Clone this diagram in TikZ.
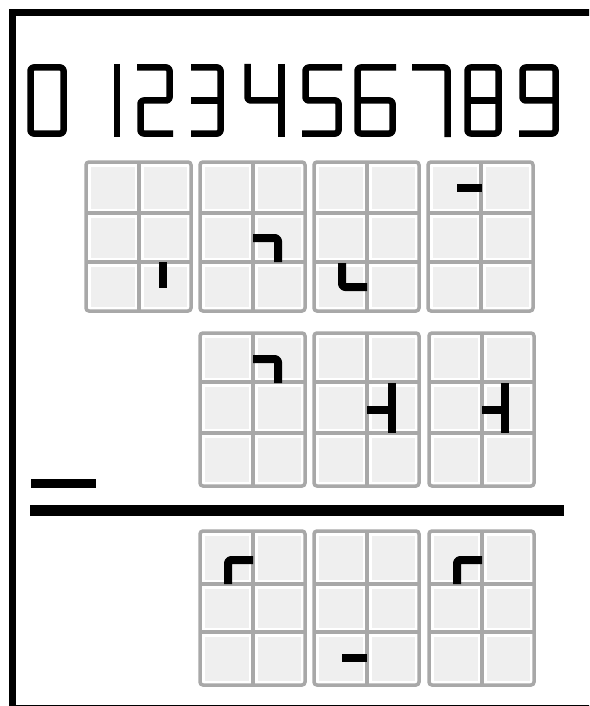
\documentclass[tikz,border=0pt]{standalone}
\definecolor{cellgray}{RGB}{239,239,239}
\definecolor{linegray}{RGB}{168,168,168}
\tikzset{
  framestroke/.style={line width=7pt,black},
  digitstroke/.style={line width=6.5pt,black,line join=round,line cap=butt,rounded corners=3pt},
  segstroke/.style={line width=8pt,black,line join=round,line cap=butt,rounded corners=3pt},
  gridline/.style={line width=3.5pt,draw=linegray},
  cellfill/.style={fill=cellgray},
}
\newcommand\mygrid[5]{%
  \pgfmathsetmacro\gM{#1+53}%
  \pgfmathsetmacro\gR{#1+105}%
  \foreach \ya/\yb in {#2/#3,#3/#4,#4/#5}{%
    \fill[cellfill] (#1+4.5,\ya+4.5) rectangle (\gM-4.5,\yb-4.5);
    \fill[cellfill] (\gM+4.5,\ya+4.5) rectangle (\gR-4.5,\yb-4.5);
  }%
  \draw[gridline,rounded corners=3pt] (#1,#2) rectangle (\gR,#5);
  \draw[gridline] (\gM,#2) -- (\gM,#5) (#1,#3) -- (\gR,#3) (#1,#4) -- (\gR,#4);
}
\begin{document}
\begin{tikzpicture}[x=1pt,y=-1pt]
\useasboundingbox (0,0) rectangle (589,706);
\clip (0,0) rectangle (589,706);
\fill[white] (0,0) rectangle (589,706);
% frame
\draw[framestroke] (12.5,12.5) rectangle (640,708.5);
% invisible real text of the digit row
\node[text opacity=0,font=\fontsize{60}{60}\selectfont,inner sep=0pt] (digits) at (293,100) {0 123456789};
% seven-segment digits: top y 67.5, middle 100.5, bottom 133.5
\def\tT{67.5}\def\tM{100.5}\def\tB{133.5}
% 0
\draw[digitstroke] (30.5,\tT) rectangle (63.5,\tB);
% 1
\draw[digitstroke] (117,64) -- (117,137);
% 2
\draw[digitstroke] (137,\tT) -- (169.5,\tT) -- (169.5,\tM) -- (140.5,\tM) -- (140.5,\tB) -- (173,\tB);
% 3
\draw[digitstroke] (191,\tT) -- (220.5,\tT) -- (220.5,\tB) -- (191,\tB);
\draw[digitstroke] (191,\tM) -- (220.5,\tM);
% 4
\draw[digitstroke] (247.5,64) -- (247.5,\tM) -- (281.5,\tM);
\draw[digitstroke] (281.5,64) -- (281.5,137);
% 5
\draw[digitstroke] (342,\tT) -- (305.5,\tT) -- (305.5,\tM) -- (338.5,\tM) -- (338.5,\tB) -- (302,\tB);
% 6
\draw[digitstroke] (396,\tT) -- (357.5,\tT) -- (357.5,\tB) -- (392.5,\tB) -- (392.5,\tM) -- (357.5,\tM);
% 7
\draw[digitstroke] (412,\tT) -- (447.5,\tT) -- (447.5,137);
% 8
\draw[digitstroke] (467.5,\tT) rectangle (498.5,\tB);
\draw[digitstroke] (467.5,\tM) -- (498.5,\tM);
% 9
\draw[digitstroke] (555.5,\tM) -- (522.5,\tM) -- (522.5,\tT) -- (555.5,\tT) -- (555.5,\tB) -- (519,\tB);
% grids row 1
\mygrid{86}{162}{213}{262}{311}
\mygrid{200}{162}{213}{262}{311}
\mygrid{314}{162}{213}{262}{311}
\mygrid{428}{162}{213}{262}{311}
% grids row 2
\mygrid{200}{333}{382}{433}{486}
\mygrid{314}{333}{382}{433}{486}
\mygrid{429}{333}{382}{433}{486}
% grids row 3
\mygrid{200}{531}{584}{632}{685}
\mygrid{314}{531}{584}{632}{685}
\mygrid{429}{531}{584}{632}{685}
% marks row 1
\draw[segstroke] (163,262) -- (163,288);
\draw[segstroke] (253,238) -- (278,238) -- (278,262);
\draw[segstroke] (342,263) -- (342,287) -- (367,287);
\draw[segstroke] (457,188) -- (482,188);
% marks row 2
\draw[segstroke] (253,359) -- (278,359) -- (278,383);
\draw[segstroke] (392,383) -- (392,433);
\draw[segstroke] (367,410) -- (392,410);
\draw[segstroke] (505,383) -- (505,433);
\draw[segstroke] (482,410) -- (505,410);
% marks row 3
\draw[segstroke] (228,584) -- (228,560) -- (253,560);
\draw[segstroke] (342,658) -- (367,658);
\draw[segstroke] (457,584) -- (457,560) -- (482,560);
% minus sign and rule
\draw[line width=9pt,black] (31,483) -- (96,483);
\draw[line width=11pt,black] (30,510) -- (564,510);
\end{tikzpicture}
\end{document}
